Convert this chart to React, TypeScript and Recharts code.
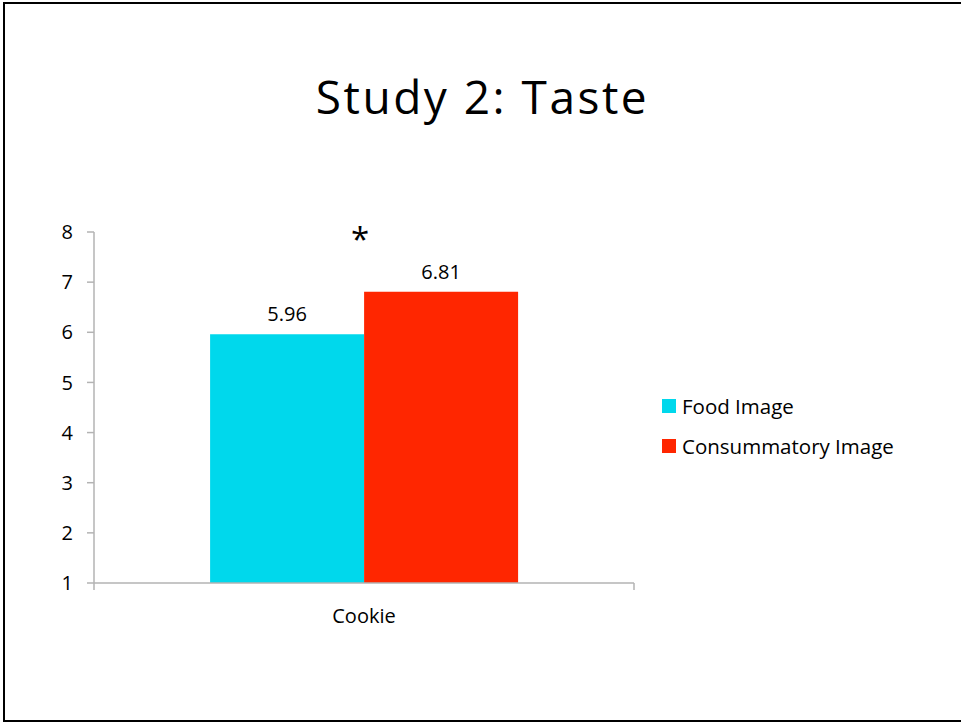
import { BarChart, Bar, XAxis, YAxis, LabelList } from 'recharts';

const categories = ['Cookie'];
const foodImage = [5.96];
const consummatoryImage = [6.81];
const yTicks = [1, 2, 3, 4, 5, 6, 7, 8];
const seriesNames = ['Food Image', 'Consummatory Image'];
const seriesColors = ['#00D8EC', '#FF2600'];

const FONT = '"Open Sans", sans-serif';
const AXIS = '#b3b3b3';
const PLOT_W = 540;

const data = categories.map((c, i) => ({
  name: c,
  food: foodImage[i],
  consummatory: consummatoryImage[i],
}));

// category label plus the boundary ticks Excel draws at each band edge
const CategoryTick = (props: any) => {
  const { x, y, payload } = props;
  const half = PLOT_W / 2;
  return (
    <g>
      <line x1={x - half} y1={y} x2={x - half} y2={y + 7} stroke={AXIS} strokeWidth={1.5} />
      <line x1={x + half} y1={y} x2={x + half} y2={y + 7} stroke={AXIS} strokeWidth={1.5} />
      <text x={x} y={y + 35} textAnchor="middle" dominantBaseline="middle" fontSize={20} fill="#000" fontFamily={FONT}>
        {payload.value}
      </text>
    </g>
  );
};

export default function App() {
  return (
    <div style={{ position: 'absolute', left: 0, top: 0, width: 961, height: 723, background: '#fff', fontFamily: FONT }}>
      <div
        style={{
          position: 'absolute',
          left: 3,
          top: 2,
          width: 958,
          height: 716,
          borderTop: '2px solid #000',
          borderLeft: '2px solid #000',
          borderBottom: '2px solid #000',
        }}
      />
      <div style={{ position: 'absolute', left: 0, width: 965, top: 65, textAlign: 'center', fontSize: 46, letterSpacing: 2.5, color: '#000' }}>
        Study 2: Taste
      </div>
      <div style={{ position: 'absolute', left: 345, top: 216, width: 30, textAlign: 'center', fontSize: 33, color: '#000' }}>
        *
      </div>
      <div style={{ position: 'absolute', left: 662, top: 386, fontSize: 20.5, color: '#000' }}>
        {seriesNames.map((n, i) => (
          <div key={n} style={{ display: 'flex', alignItems: 'center', height: 40 }}>
            <div style={{ width: 14, height: 14, background: seriesColors[i], marginRight: 6 }} />
            <span>{n}</span>
          </div>
        ))}
      </div>
      <div style={{ position: 'absolute', left: 0, top: 0 }}>
        <BarChart
          width={961}
          height={723}
          data={data}
          margin={{ top: 232, right: 327, bottom: 110, left: 0 }}
          barCategoryGap="21.5%"
          barGap={0}
        >
          <XAxis
            dataKey="name"
            height={30}
            axisLine={{ stroke: AXIS, strokeWidth: 1.5 }}
            tickLine={false}
            tickSize={0}
            tickMargin={0}
            tick={<CategoryTick />}
          />
          <YAxis
            width={94}
            domain={[1, 8]}
            ticks={yTicks}
            interval={0}
            axisLine={{ stroke: AXIS, strokeWidth: 1.5 }}
            tickLine={{ stroke: AXIS, strokeWidth: 1.5 }}
            tickSize={7}
            tickMargin={14}
            tick={{ fill: '#000', fontSize: 20, fontFamily: FONT }}
          />
          <Bar dataKey="food" name={seriesNames[0]} fill={seriesColors[0]} isAnimationActive={false}>
            <LabelList dataKey="food" position="top" offset={13} fill="#000" fontSize={20} fontFamily={FONT} formatter={(v: any) => Number(v).toFixed(2)} />
          </Bar>
          <Bar dataKey="consummatory" name={seriesNames[1]} fill={seriesColors[1]} isAnimationActive={false}>
            <LabelList dataKey="consummatory" position="top" offset={13} fill="#000" fontSize={20} fontFamily={FONT} formatter={(v: any) => Number(v).toFixed(2)} />
          </Bar>
        </BarChart>
      </div>
    </div>
  );
}
